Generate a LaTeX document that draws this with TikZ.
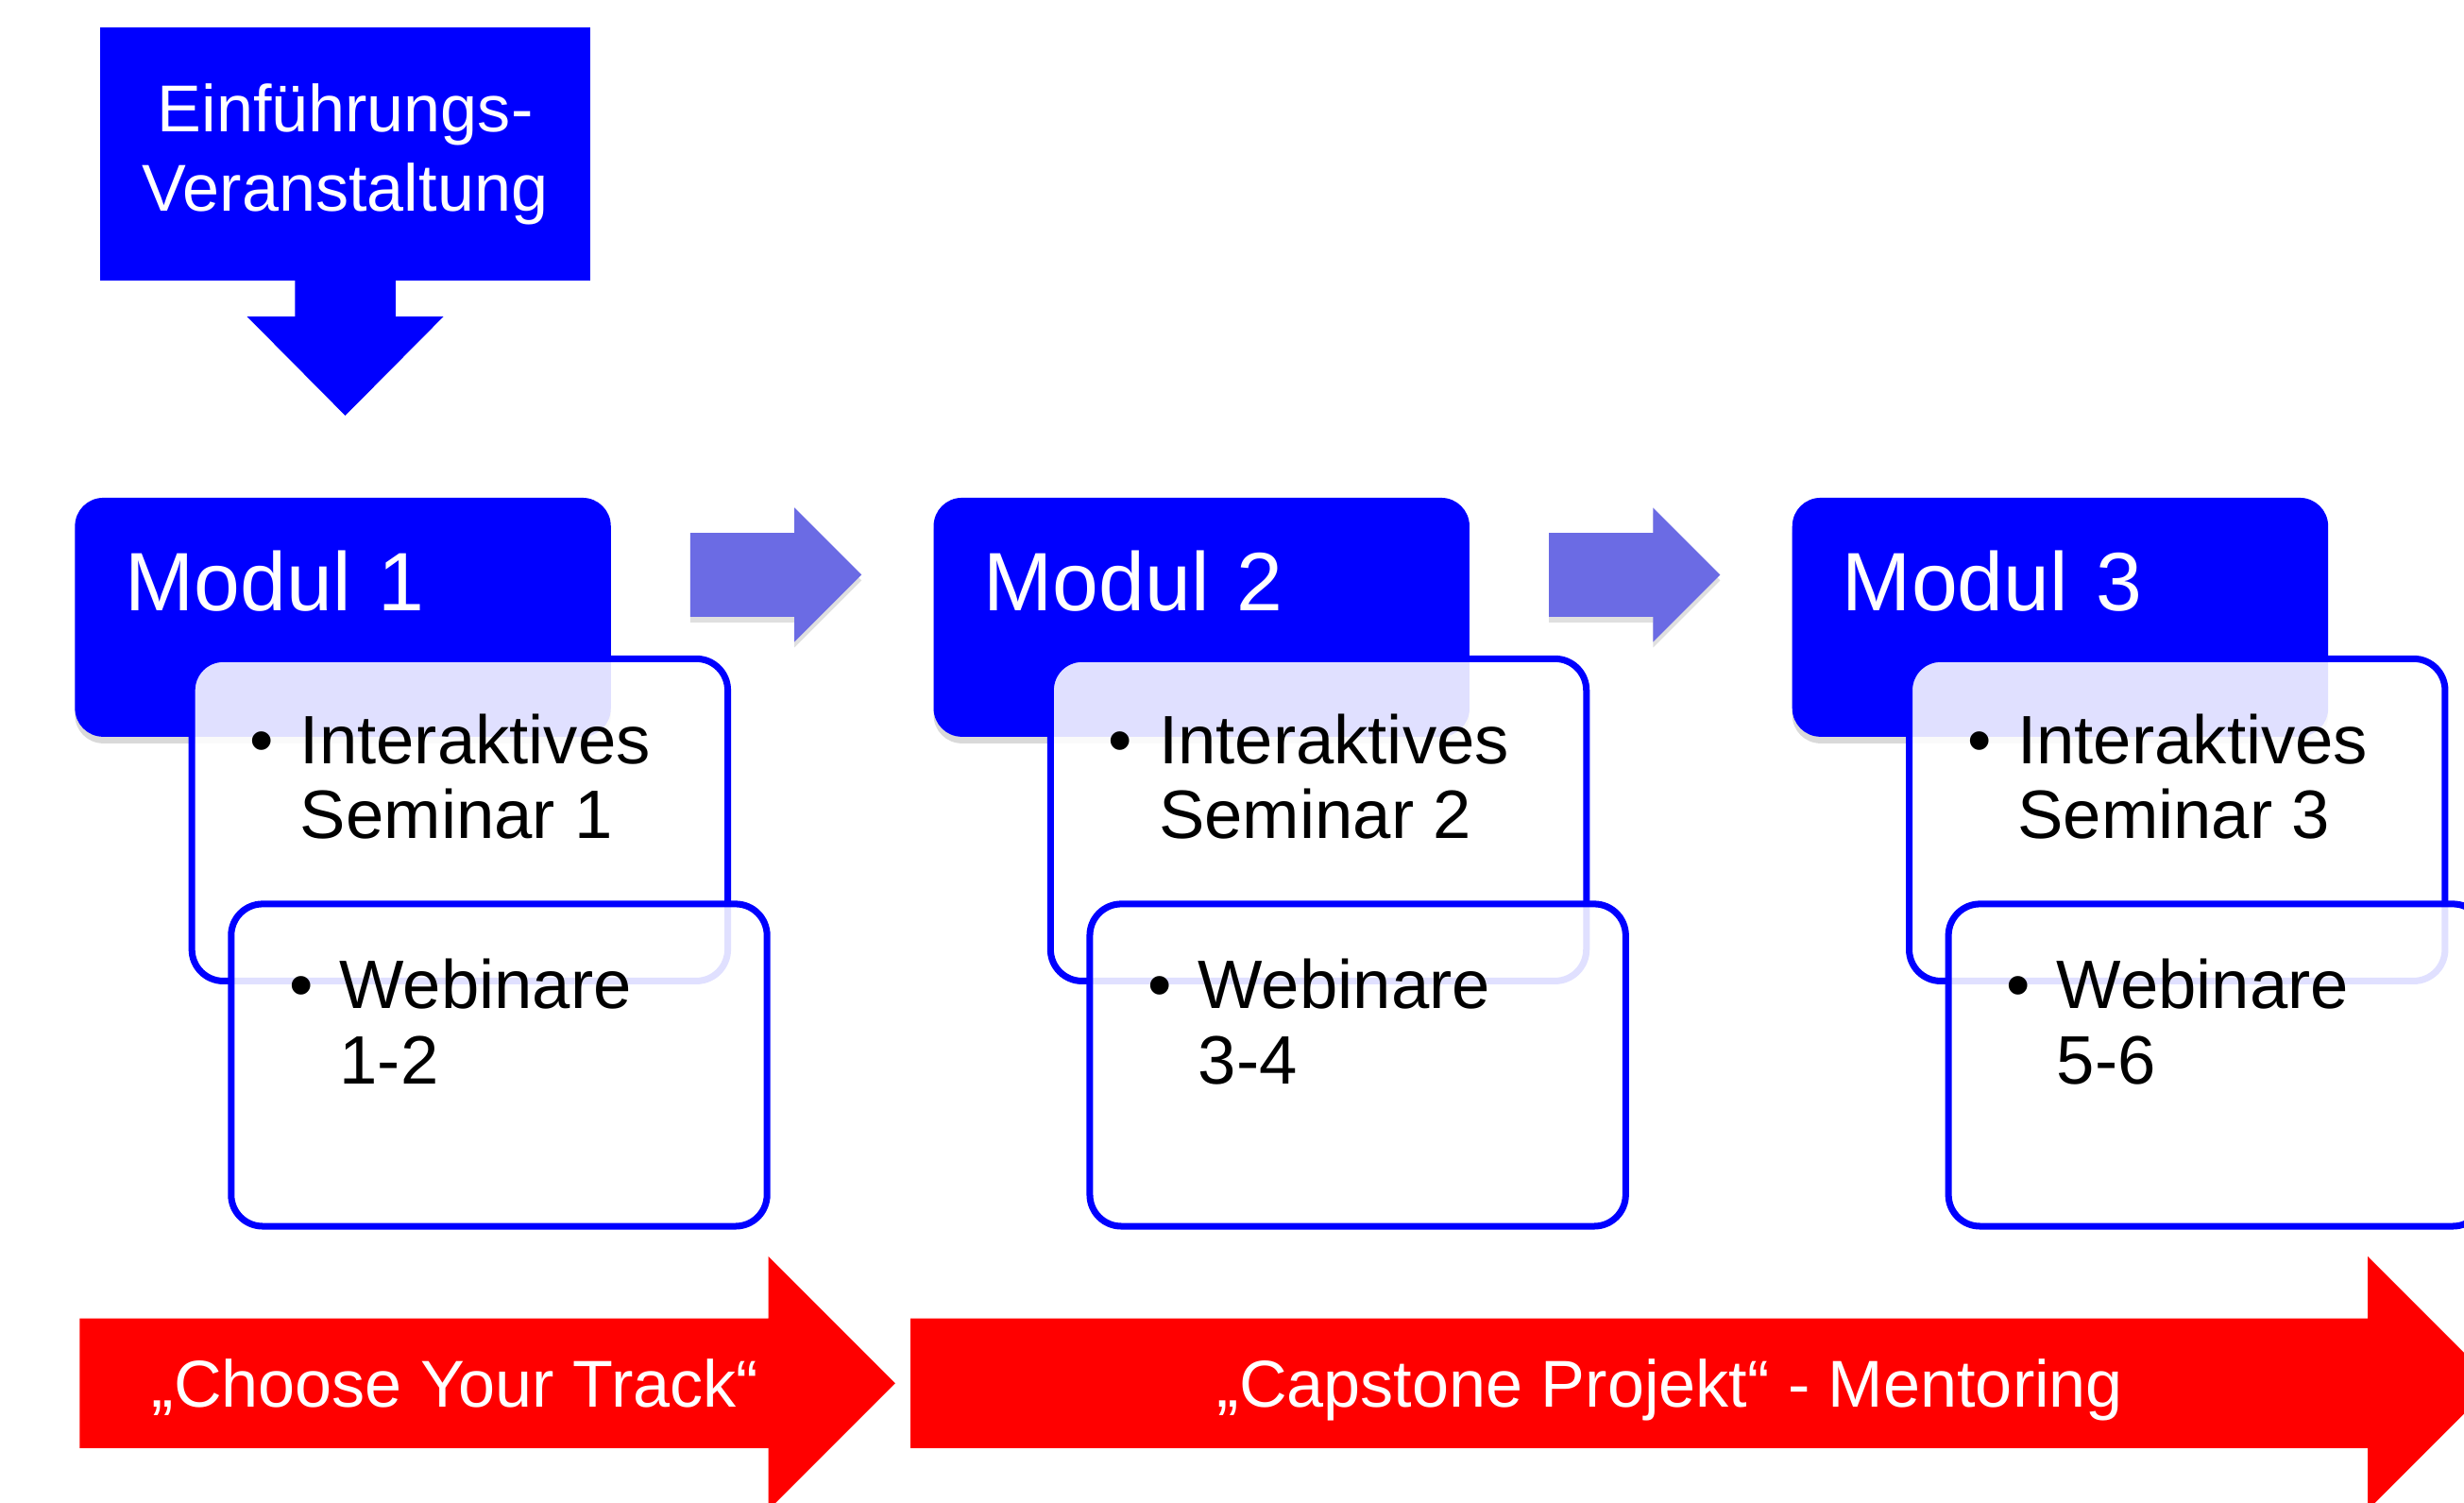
\documentclass[tikz,border=0pt]{standalone}
\usepackage{fontspec}
\setmainfont{Liberation Sans}
\usepackage{xcolor}
\usetikzlibrary{shapes.arrows, positioning, calc, shadows}

\definecolor{modulblue}{RGB}{0,0,255}
\definecolor{steparrow}{RGB}{107,107,228}
\definecolor{trackred}{RGB}{255,0,0}

\newcommand{\punkt}[2]{\parbox[t][1.35cm][t]{2.67cm}{\makebox[0.32cm][l]{\textbullet}\parbox[t]{2.4cm}{#1\\#2}}}

\begin{document}
\begin{tikzpicture}[
    node distance=1.5cm,
    intro/.style={rectangle, fill=modulblue, text=white, minimum width=3.12cm, minimum height=1.61cm, align=center, font=\fontsize{12}{14.5}\selectfont},
    modul/.style={rectangle, fill=modulblue, text=white, rounded corners=0.18cm, inner sep=0.32cm, text width=2.77cm, align=left, text height=0.4cm, text depth=0.48cm, font=\fontsize{15}{18}\selectfont, drop shadow={opacity=0.3, shadow xshift=0pt, shadow yshift=-1.2pt}},
    item/.style={rectangle, draw=modulblue, line width=1.2pt, fill=white, fill opacity=0.88, text opacity=1, rounded corners=0.2cm, inner xsep=0.37cm, inner ysep=0.35cm, anchor=north west, font=\fontsize{12.4}{13.6}\selectfont},
    flowarrow/.style={single arrow, fill=steparrow, minimum height=1.09cm, minimum width=0.84cm, single arrow head extend=0.16cm, inner xsep=0pt, inner ysep=0.26cm, drop shadow={opacity=0.25, shadow xshift=0pt, shadow yshift=-1pt}},
    track/.style={single arrow, fill=trackred, text=white, minimum width=1.60cm, single arrow head extend=0.395cm, inner xsep=0pt, inner ysep=0.255cm, text height=0.3cm, text depth=0cm, anchor=tail, font=\fontsize{12}{14}\selectfont}
]
    \useasboundingbox (0,0) rectangle (15.68,9.56);

    \node[intro, anchor=north west] (intro) at (0.63,9.39) {Einführungs-\\Veranstaltung};
    \fill[modulblue] ($(intro.south)+(-0.32,0.01)$) -- ++(0,-0.23) -- ++(-0.305,0) -- ($(intro.south)+(0,-0.85)$) -- ($(intro.south)+(0.625,-0.22)$) -- ++(-0.305,0) -- ++(0,0.23) -- cycle;

    \node[modul, anchor=north west] (modul1) at (0.47,6.40) {Modul 1};
    \node[item] (seminar1) at ($(modul1.north west)+(0.73,-1.01)$) {\punkt{Interaktives}{Seminar 1}};
    \node[item] (webinar1) at ($(seminar1.north west)+(0.25,-1.56)$) {\punkt{Webinare}{1-2}};

    \node[modul, right=2.04cm of modul1] (modul2) {Modul 2};
    \node[item] (seminar2) at ($(modul2.north west)+(0.73,-1.01)$) {\punkt{Interaktives}{Seminar 2}};
    \node[item] (webinar2) at ($(seminar2.north west)+(0.25,-1.56)$) {\punkt{Webinare}{3-4}};

    \node[modul, right=2.04cm of modul2] (modul3) {Modul 3};
    \node[item] (seminar3) at ($(modul3.north west)+(0.73,-1.01)$) {\punkt{Interaktives}{Seminar 3}};
    \node[item] (webinar3) at ($(seminar3.north west)+(0.25,-1.56)$) {\punkt{Webinare}{5-6}};

    \node[flowarrow] (pfeil12) at ($(modul1.east)!0.5!(modul2.west)+(-0.11,0.27)$) {};
    \node[flowarrow] (pfeil23) at ($(modul2.east)!0.5!(modul3.west)+(-0.11,0.27)$) {};

    \node[track, minimum height=5.19cm] (choose) at (0.50,0.76) {„Choose Your Track“};
    \node[track, minimum height=10.08cm] (capstone) at ([xshift=0.08cm]choose.tip) {„Capstone Projekt“ - Mentoring};
\end{tikzpicture}
\end{document}
